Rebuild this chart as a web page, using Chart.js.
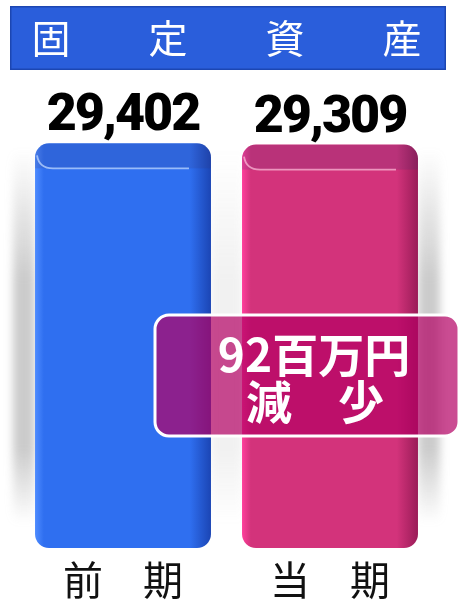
<!DOCTYPE html>
<html lang="ja">
<head>
<meta charset="utf-8">
<title>固定資産</title>
<script src="https://cdn.jsdelivr.net/npm/chart.js@4.4.1/dist/chart.umd.min.js"></script>
<style>
  html, body { margin: 0; padding: 0; background: #fff; }
  canvas { display: block; }
</style>
</head>
<body>
<canvas id="assetChart" width="467" height="604"></canvas>
<script>
// 固定資産（百万円）
const periods = ['前　期', '当　期'];
const assets = [29402, 29309];
const changeNote = ['92百万円', '減　少'];

const CJK = '"Noto Sans CJK JP", "Noto Sans", sans-serif';

// bar body colours: left edge, face, right edge
const barShades = [
  ['#4f8cff', '#2f6ff0', '#1b45b4'],
  ['#ff3f9c', '#d3337b', '#9a1c58']
];
const lipLine = ['rgba(190,215,255,0.75)', 'rgba(255,190,220,0.7)'];

function barFill(c) {
  const chart = c.chart;
  const area = chart.chartArea;
  const shades = barShades[c.dataIndex];
  if (!area) return shades[1];
  const x = chart.scales.x.getPixelForValue(c.dataIndex);
  const half = (area.right - area.left) / periods.length * 0.85 / 2;
  const g = chart.ctx.createLinearGradient(x - half, 0, x + half, 0);
  g.addColorStop(0, shades[0]);
  g.addColorStop(0.05, shades[1]);
  g.addColorStop(0.88, shades[1]);
  g.addColorStop(1, shades[2]);
  return g;
}

// blue band behind the title
const titleBand = {
  id: 'titleBand',
  beforeDraw(chart) {
    const ctx = chart.ctx;
    ctx.save();
    ctx.fillStyle = '#2a5edb';
    ctx.fillRect(10, 6, 436, 64);
    ctx.strokeStyle = '#1c46b2';
    ctx.lineWidth = 1.5;
    ctx.strokeRect(10.75, 6.75, 434.5, 62.5);
    ctx.restore();
  }
};

// soft grey shadow columns behind the bars
const backdrop = {
  id: 'backdrop',
  beforeDatasetsDraw(chart) {
    const { ctx, chartArea: a } = chart;
    const bars = chart.getDatasetMeta(0).data;
    const l0 = bars[0].x - bars[0].width / 2;
    const r0 = bars[0].x + bars[0].width / 2;
    const l1 = bars[1].x - bars[1].width / 2;
    const r1 = bars[1].x + bars[1].width / 2;
    const top = a.top + 70, bottom = a.bottom - 25;

    const shade = (alpha) => {
      const g = ctx.createLinearGradient(0, top, 0, bottom);
      g.addColorStop(0, 'rgba(140,140,140,0)');
      g.addColorStop(0.35, 'rgba(140,140,140,' + alpha + ')');
      g.addColorStop(0.8, 'rgba(140,140,140,' + alpha + ')');
      g.addColorStop(1, 'rgba(140,140,140,0)');
      return g;
    };

    ctx.save();
    ctx.filter = 'blur(4px)';
    ctx.fillStyle = shade(0.45);
    ctx.fillRect(l0 - 22, top, 22, bottom - top);
    ctx.fillRect(r1, top, 22, bottom - top);
    ctx.fillStyle = shade(0.12);
    ctx.fillRect(r0, top, l1 - r0, bottom - top);
    ctx.restore();
  }
};

// rounded top lip of each bar, value labels and the change note
const barDecor = {
  id: 'barDecor',
  afterDatasetsDraw(chart) {
    const ctx = chart.ctx;
    const bars = chart.getDatasetMeta(0).data;

    bars.forEach((b, i) => {
      const left = b.x - b.width / 2;
      const right = b.x + b.width / 2;
      const top = b.y;
      ctx.save();
      ctx.beginPath();
      ctx.roundRect(left, top, b.width, b.base - top, 14);
      ctx.clip();
      ctx.fillStyle = 'rgba(50,50,110,0.16)';
      ctx.fillRect(left, top, b.width, 25);
      ctx.strokeStyle = lipLine[i];
      ctx.lineWidth = 1.8;
      ctx.beginPath();
      ctx.moveTo(left + 2, top + 12);
      ctx.quadraticCurveTo(left + 4, top + 25, left + 18, top + 25);
      ctx.lineTo(right - 22, top + 25);
      ctx.stroke();
      ctx.restore();

      ctx.save();
      ctx.fillStyle = '#000';
      ctx.font = '900 52px Roboto, "DejaVu Sans", sans-serif';
      ctx.letterSpacing = '-2px';
      ctx.textAlign = 'center';
      ctx.textBaseline = 'alphabetic';
      ctx.fillText(assets[i].toLocaleString('en-US'), b.x, top - 13);
      ctx.restore();
    });

    // change note between the two periods
    ctx.save();
    ctx.beginPath();
    ctx.roundRect(155, 315, 304, 121, 14);
    ctx.fillStyle = 'rgba(180,0,100,0.7)';
    ctx.fill();
    ctx.strokeStyle = '#fff';
    ctx.lineWidth = 3;
    ctx.stroke();
    ctx.fillStyle = '#fff';
    ctx.font = 'bold 46px ' + CJK;
    ctx.textAlign = 'center';
    ctx.textBaseline = 'middle';
    ctx.fillText(changeNote[0], 314, 355);
    ctx.fillText(changeNote[1], 315, 402);
    ctx.restore();
  }
};

new Chart(document.getElementById('assetChart'), {
  type: 'bar',
  data: {
    labels: periods,
    datasets: [{
      data: assets,
      backgroundColor: barFill,
      borderRadius: 14,
      borderSkipped: false,
      barPercentage: 0.85,
      categoryPercentage: 1
    }]
  },
  options: {
    responsive: false,
    animation: false,
    layout: { padding: { left: 19.5, right: 33.5, top: 0, bottom: -8 } },
    plugins: {
      legend: { display: false },
      tooltip: { enabled: false },
      title: {
        display: true,
        text: '固　　定　　資　　産',
        color: '#fff',
        font: { family: CJK, size: 39, weight: 'normal' },
        padding: { top: 14.6, bottom: 18.6 }
      }
    },
    scales: {
      x: {
        grid: { display: false, drawTicks: false },
        border: { display: false },
        ticks: { color: '#111', font: { family: CJK, size: 40 }, padding: 8 }
      },
      y: { display: false, min: 0, max: 34000 }
    }
  },
  plugins: [titleBand, backdrop, barDecor]
});
</script>
</body>
</html>
